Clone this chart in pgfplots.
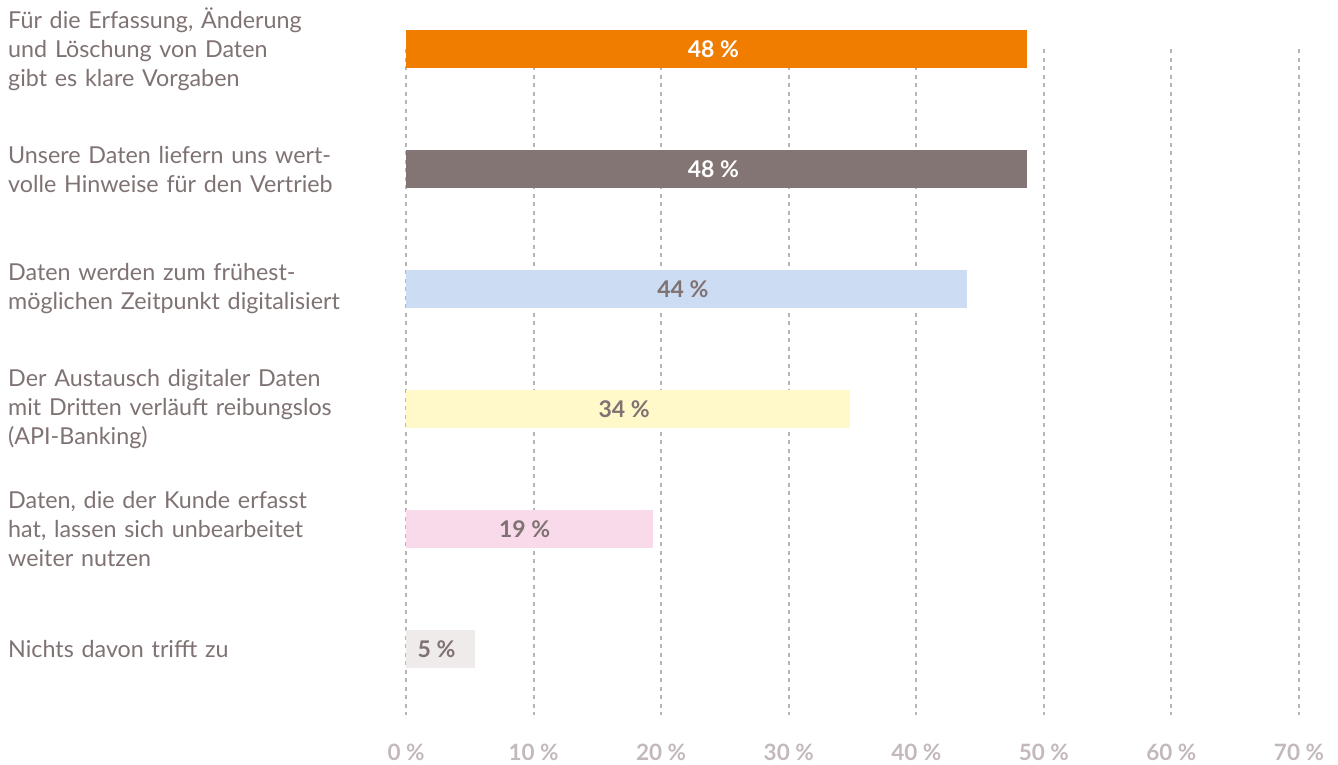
\documentclass[border=0pt]{standalone}
\usepackage{pgfplots}
\pgfplotsset{compat=1.18}
\usepackage{fontspec}
\setmainfont{Lato}
\definecolor{cOrange}{HTML}{F07D00}
\definecolor{cGray}{HTML}{837573}
\definecolor{cBlue}{HTML}{CCDCF2}
\definecolor{cYellow}{HTML}{FFF8C9}
\definecolor{cPink}{HTML}{F9DAEA}
\definecolor{cLight}{HTML}{EFEBEB}
\definecolor{labelcol}{HTML}{7F7272}
\definecolor{tickcol}{HTML}{C3B9BA}
\definecolor{gridcol}{HTML}{BDB3B4}
\begin{document}
\begin{tikzpicture}
\useasboundingbox (0pt,0pt) rectangle (1338pt,-764pt);
\begin{axis}[
  at={(406pt,-49pt)}, anchor=origin,
  x=12.757pt, y=120pt, y dir=reverse,
  xmin=0, xmax=70, ymin=0, ymax=5.55,
  clip=false,
  axis line style={draw=none},
  major tick length=0pt,
  xtick={0,10,...,70},
  xticklabels={0 \%,10 \%,20 \%,30 \%,40 \%,50 \%,60 \%,70 \%},
  xticklabel style={inner sep=0pt, anchor=center, yshift=-37pt, font=\fontsize{22.5}{26}\selectfont\bfseries, text=tickcol},
  xmajorgrids,
  major grid style={gridcol, line width=2pt, dash pattern=on 4pt off 4.5pt},
  ytick={0,1,2,3,4,5},
  yticklabels={
    {Für die Erfassung, Änderung\\und Löschung von Daten\\gibt es klare Vorgaben},
    {Unsere Daten liefern uns wert-\\volle Hinweise für den Vertrieb},
    {Daten werden zum frühest-\\möglichen Zeitpunkt digitalisiert},
    {Der Austausch digitaler Daten\\mit Dritten verläuft reibungslos\\(API-Banking)},
    {Daten, die der Kunde erfasst\\hat, lassen sich unbearbeitet\\weiter nutzen},
    {Nichts davon trifft zu}},
  yticklabel style={anchor=west, inner sep=0pt, xshift=-398pt, align=left, text width=380pt, font=\fontsize{23.3}{29}\selectfont, text=labelcol},
  xbar, bar width=38pt, bar shift=0pt,
]
\addplot[fill=cOrange, draw=none] coordinates {(48.7,0)};
\addplot[fill=cGray, draw=none] coordinates {(48.7,1)};
\addplot[fill=cBlue, draw=none] coordinates {(44.0,2)};
\addplot[fill=cYellow, draw=none] coordinates {(34.8,3)};
\addplot[fill=cPink, draw=none] coordinates {(19.4,4)};
\addplot[fill=cLight, draw=none] coordinates {(5.4,5)};
\addplot[xbar=false, draw=none, mark=none, nodes near coords, point meta=explicit symbolic,
  nodes near coords style={anchor=center, text=white, font=\fontsize{23}{26}\selectfont\bfseries}]
  coordinates {(24.1,0) [48 \%] (24.1,1) [48 \%]};
\addplot[xbar=false, draw=none, mark=none, nodes near coords, point meta=explicit symbolic,
  nodes near coords style={anchor=center, text=labelcol, font=\fontsize{23}{26}\selectfont\bfseries}]
  coordinates {(21.7,2) [44 \%] (17.1,3) [34 \%] (9.3,4) [19 \%] (2.4,5) [5 \%]};
\end{axis}
\end{tikzpicture}
\end{document}
